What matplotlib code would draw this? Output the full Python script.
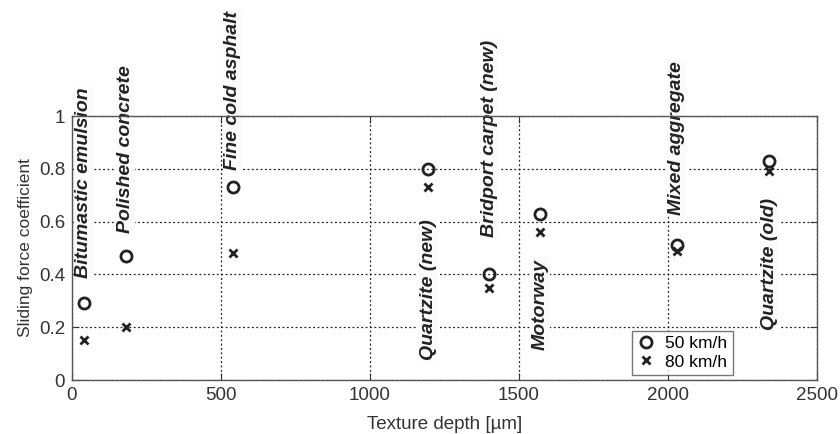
import matplotlib
matplotlib.use("Agg")
import matplotlib.pyplot as plt

plt.rcParams['font.family'] = ['Liberation Sans', 'DejaVu Sans']

surfaces = ["Bitumastic emulsion", "Polished concrete", "Fine cold asphalt",
            "Quartzite (new)", "Bridport carpet (new)", "Motorway",
            "Mixed aggregate", "Quartzite (old)"]
depth = [40, 180, 540, 1195, 1400, 1570, 2030, 2340]
sfc_50 = [0.29, 0.47, 0.73, 0.80, 0.40, 0.63, 0.51, 0.83]
sfc_80 = [0.15, 0.20, 0.48, 0.73, 0.35, 0.56, 0.49, 0.79]
# lower end of each rotated label, in data units
label_y = [0.385, 0.555, 0.795, 0.075, 0.54, 0.115, 0.625, 0.19]

fig = plt.figure(figsize=(8.4, 4.34), dpi=100)
ax = fig.add_axes([0.0857, 0.1244, 0.8869, 0.6083])

ax.plot(depth, sfc_50, 'o', ls='none', mfc='none', mec='#222222', ms=8, mew=2.0,
        label='50 km/h', zorder=4)
ax.plot(depth, sfc_80, 'x', ls='none', color='#222222', ms=6, mew=2.0,
        label='80 km/h', zorder=4)

for name, x, y in zip(surfaces, depth, label_y):
    ax.text(x, y, name, rotation=90, ha='center', va='bottom', fontsize=14,
            fontweight='bold', fontstyle='italic', color='#222222', zorder=5,
            bbox=dict(facecolor='#fbfbfb', edgecolor='none', pad=0.8),
            clip_on=False)

ax.set_xlim(0, 2500)
ax.set_ylim(0, 1)
ax.set_xticks([0, 500, 1000, 1500, 2000, 2500])
ax.set_yticks([0, 0.2, 0.4, 0.6, 0.8, 1])
ax.set_yticklabels(['0', '0.2', '0.4', '0.6', '0.8', '1'])
ax.grid(True, ls=(0, (1.5, 2)), color='#222222', lw=0.9)
ax.tick_params(direction='in', top=True, right=True, labelsize=13.5,
               colors='#333333', length=5, pad=5)
# keep the frame on top of the label backgrounds
for s in ax.spines.values():
    s.set_color('#555555')
    s.set_linewidth(1.0)
    s.set_zorder(6)

ax.set_xlabel('Texture depth [\u00b5m]', fontsize=13.5, color='#333333', labelpad=9)
ax.set_ylabel('Sliding force coefficient', fontsize=12.5, color='#333333', labelpad=4)

leg = ax.legend(loc='lower right', bbox_to_anchor=(0.8866, 0.02), fontsize=12.5,
                frameon=True, fancybox=False, edgecolor='#555555',
                handlelength=1.0, handletextpad=0.6, borderpad=0.3,
                labelspacing=0.2, borderaxespad=0)
leg.get_frame().set_linewidth(1.0)

fig.savefig('out.png', dpi=100)
